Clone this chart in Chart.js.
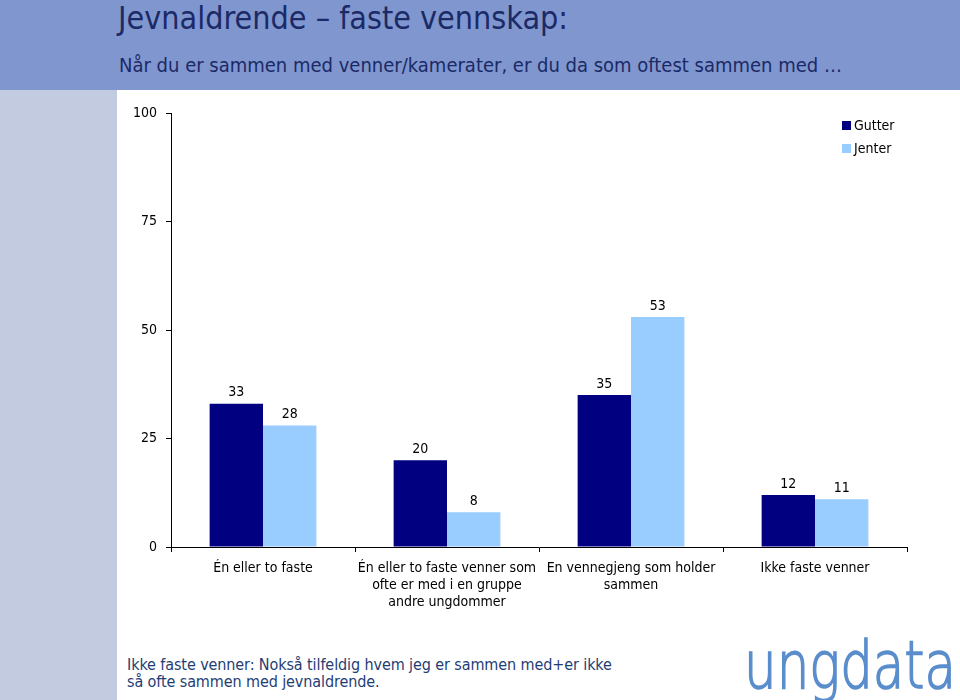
<!DOCTYPE html>
<html>
<head>
<meta charset="utf-8">
<script src="https://cdn.jsdelivr.net/npm/chart.js@4"></script>
<style>
  body { margin: 0; width: 960px; height: 700px; position: relative; overflow: hidden; background: #fff; font-family: "DejaVu Sans Condensed", "DejaVu Sans", sans-serif; }
  #header { position: absolute; left: 0; top: 0; width: 960px; height: 90px; background: #8096cf; }
  #side { position: absolute; left: 0; top: 90px; width: 117px; height: 610px; background: #c2cbe0; }
  #title { position: absolute; left: 118px; top: -1px; font-size: 32px; color: #1b2a66; white-space: nowrap; }
  #subtitle { position: absolute; left: 119px; top: 53px; font-size: 20px; color: #1b2a66; white-space: nowrap; }
  #chart { position: absolute; left: 117px; top: 90px; }
  .leg { position: absolute; left: 842px; font-size: 14px; color: #000; white-space: nowrap; }
  .leg span { display: inline-block; width: 9px; height: 9px; margin-right: 3px; }
  #note { position: absolute; left: 127px; top: 656px; font-size: 16px; line-height: 17px; color: #1f3d75; white-space: nowrap; letter-spacing: -0.1px; }
  #logo { position: absolute; left: 744px; top: 627px; font-family: "DejaVu Sans"; font-weight: 200; font-size: 66px; line-height: 77px; color: #5a8dcc; -webkit-text-stroke: 1.6px #5a8dcc; transform: scaleX(0.78); transform-origin: left top; white-space: nowrap; }
</style>
</head>
<body>
<div id="header"></div>
<div id="side"></div>
<div id="title">Jevnaldrende – faste vennskap:</div>
<div id="subtitle">Når du er sammen med venner/kamerater, er du da som oftest sammen med …</div>
<canvas id="chart" width="843" height="540"></canvas>
<div class="leg" style="top:117px"><span style="background:#000080"></span>Gutter</div>
<div class="leg" style="top:140px"><span style="background:#99ccff"></span>Jenter</div>
<div id="note">Ikke faste venner: Nokså tilfeldig hvem jeg er sammen med+er ikke<br>så ofte sammen med jevnaldrende.</div>
<div id="logo">ungdata</div>
<script>
const categories = [
  "Én eller to faste",
  ["Én eller to faste venner som", "ofte er med i en gruppe", "andre ungdommer"],
  ["En vennegjeng som holder", "sammen"],
  "Ikke faste venner"
];
const gutter = [33, 20, 35, 12];
const jenter = [28, 8, 53, 11];
const yTicks = [0, 25, 50, 75, 100];

const font = "'DejaVu Sans Condensed', 'DejaVu Sans', sans-serif";

const valueLabels = {
  id: "valueLabels",
  afterDatasetsDraw(chart) {
    const ctx = chart.ctx;
    ctx.save();
    ctx.font = "14px " + font;
    ctx.fillStyle = "#000";
    ctx.textAlign = "center";
    ctx.textBaseline = "bottom";
    chart.data.datasets.forEach((ds, i) => {
      chart.getDatasetMeta(i).data.forEach((bar, j) => {
        ctx.fillText(ds.data[j], bar.x, bar.y - 4);
      });
    });
    ctx.restore();
  }
};

new Chart(document.getElementById("chart"), {
  type: "bar",
  data: {
    labels: categories,
    datasets: [
      { label: "Gutter", data: gutter, backgroundColor: "#000080" },
      { label: "Jenter", data: jenter, backgroundColor: "#99ccff" }
    ]
  },
  options: {
    responsive: false,
    animation: false,
    layout: { padding: { top: 23, right: 53, left: 0, bottom: 0 } },
    plugins: { legend: { display: false }, tooltip: { enabled: false } },
    datasets: { bar: { categoryPercentage: 0.58, barPercentage: 1 } },
    scales: {
      x: {
        afterFit: s => { s.height = 83; },
        border: { color: "#000", width: 1 },
        grid: { offset: true, drawOnChartArea: false, color: "#000", tickLength: 5 },
        ticks: { color: "#000", font: { family: font, size: 14 }, padding: 8, maxRotation: 0, autoSkip: false }
      },
      y: {
        min: 0,
        max: 100,
        afterFit: s => { s.width = 54; },
        afterBuildTicks: s => { s.ticks = yTicks.map(v => ({ value: v })); },
        border: { color: "#000", width: 1 },
        grid: { drawOnChartArea: false, color: "#000", tickLength: 5 },
        ticks: { color: "#000", font: { family: font, size: 14 }, padding: 9 }
      }
    }
  },
  plugins: [valueLabels]
});
</script>
</body>
</html>
